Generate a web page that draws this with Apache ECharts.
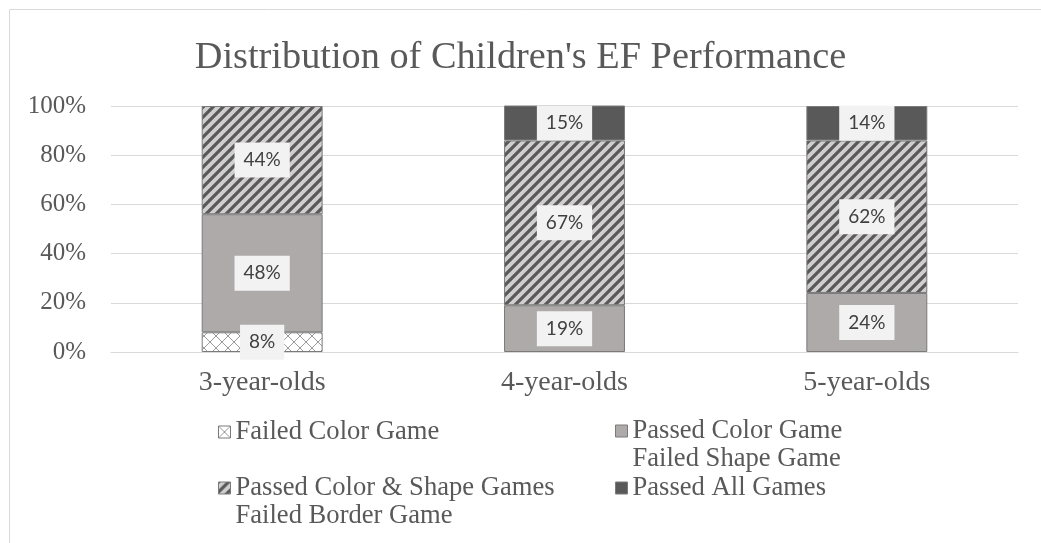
<!DOCTYPE html>
<html>
<head>
<meta charset="utf-8">
<title>Distribution of Children's EF Performance</title>
<script src="https://cdn.jsdelivr.net/npm/echarts@6/dist/echarts.min.js"></script>
<style>
  html, body { margin: 0; padding: 0; background: #ffffff; }
  #chart { width: 1041px; height: 543px; }
</style>
</head>
<body>
<div id="chart"></div>
<script>
// Age groups on the x axis
const categories = ['3-year-olds', '4-year-olds', '5-year-olds'];

// Share of children (%) in each performance group
const failedColor = [8, 0, 0];
const passedColorFailedShape = [48, 19, 24];
const passedColorShapeFailedBorder = [44, 67, 62];
const passedAll = [0, 15, 14];

// Series names (two-line names wrap like the legend text)
const seriesNames = [
  'Failed Color Game',
  'Passed Color Game\nFailed Shape Game',
  'Passed Color & Shape Games\nFailed Border Game',
  'Passed All Games'
];

// Value axis tick labels
const yTicks = [0, 20, 40, 60, 80, 100];

// --- hatch textures ---
function makeTile(size, draw) {
  const c = document.createElement('canvas');
  c.width = size; c.height = size;
  draw(c.getContext('2d'), size);
  return c;
}

// light lattice on white
const latticeTile = makeTile(12, (ctx, s) => {
  ctx.fillStyle = '#ffffff';
  ctx.fillRect(0, 0, s, s);
  ctx.strokeStyle = '#9a9a9a';
  ctx.lineWidth = 1;
  ctx.beginPath();
  ctx.moveTo(0, s); ctx.lineTo(s, 0);
  ctx.moveTo(0, 0); ctx.lineTo(s, s);
  ctx.stroke();
});

// dark upward diagonal stripes on light grey
const stripeTile = makeTile(10, (ctx, s) => {
  ctx.fillStyle = '#d0cece';
  ctx.fillRect(0, 0, s, s);
  ctx.strokeStyle = '#595959';
  ctx.lineWidth = 3.2;
  ctx.beginPath();
  for (let k = -1; k <= 1; k++) {
    ctx.moveTo(k * s - 1, s + 1);
    ctx.lineTo(k * s + s + 1, -1);
  }
  ctx.stroke();
});

const fills = [
  { image: latticeTile, repeat: 'repeat' },
  '#aeaaaa',
  { image: stripeTile, repeat: 'repeat' },
  '#595959'
];
const values = [failedColor, passedColorFailedShape, passedColorShapeFailedBorder, passedAll];

const serif = '"Liberation Serif", "Times New Roman", serif';

const series = values.map((arr, i) => ({
  name: seriesNames[i],
  type: 'bar',
  stack: 'total',
  barWidth: '40%',
  itemStyle: { color: fills[i], borderColor: '#7a7a7a', borderWidth: 1 },
  label: {
    show: true,
    position: 'inside',
    formatter: p => p.value + '%',
    fontFamily: 'Lato, "Open Sans", sans-serif',
    fontSize: 19,
    color: '#404040',
    backgroundColor: '#f2f2f2',
    padding: [8, 9, 8, 9],
    lineHeight: 19
  },
  emphasis: { disabled: true },
  data: arr.map(v => ({
    value: v,
    label: { show: v > 0 },
    itemStyle: v > 0 ? undefined : { borderWidth: 0 }
  }))
}));

// legend placement: two columns, two rows
const legendSlots = [
  { left: 218, top: 418 },
  { left: 615, top: 389 },
  { left: 218, top: 446 },
  { left: 615, top: 474 }
];

const legends = seriesNames.map((name, i) => ({
  data: [name],
  left: legendSlots[i].left,
  top: legendSlots[i].top,
  orient: 'vertical',
  padding: 0,
  icon: 'rect',
  itemWidth: 12,
  itemHeight: 12,
  selectedMode: false,
  itemStyle: { borderColor: '#7a7a7a', borderWidth: 1 },
  // a leading blank line keeps the marker level with the first line of a wrapped name
  formatter: n => (n.indexOf('\n') >= 0 ? '\n' + n : n),
  textStyle: {
    fontFamily: serif,
    fontSize: 26.6,
    lineHeight: 28,
    color: '#595959'
  }
}));

const chart = echarts.init(document.getElementById('chart'), null, { renderer: 'canvas' });
chart.setOption({
  animation: false,
  backgroundColor: '#ffffff',
  title: {
    text: "Distribution of Children's EF Performance",
    left: 'center',
    top: 34,
    textStyle: { fontFamily: serif, fontSize: 38.3, fontWeight: 'normal', color: '#595959' }
  },
  graphic: [{
    type: 'rect',
    shape: { x: 9.5, y: 9.5, width: 1100, height: 600 },
    style: { fill: 'none', stroke: '#d9d9d9', lineWidth: 1 },
    silent: true
  }],
  legend: legends,
  grid: { left: 111, right: 23, top: 106, bottom: 191, containLabel: false },
  xAxis: {
    type: 'category',
    data: categories,
    axisLine: { show: true, lineStyle: { color: '#d9d9d9', width: 1 } },
    axisTick: { show: false },
    axisLabel: { fontFamily: serif, fontSize: 28, color: '#595959', margin: 17 }
  },
  yAxis: {
    type: 'value',
    min: yTicks[0],
    max: yTicks[yTicks.length - 1],
    interval: yTicks[1] - yTicks[0],
    axisLine: { show: false },
    axisTick: { show: false },
    splitLine: { lineStyle: { color: '#d9d9d9', width: 1 } },
    axisLabel: { fontFamily: serif, fontSize: 25, color: '#595959', margin: 25, formatter: v => v + '%' }
  },
  series: series
});
</script>
</body>
</html>
